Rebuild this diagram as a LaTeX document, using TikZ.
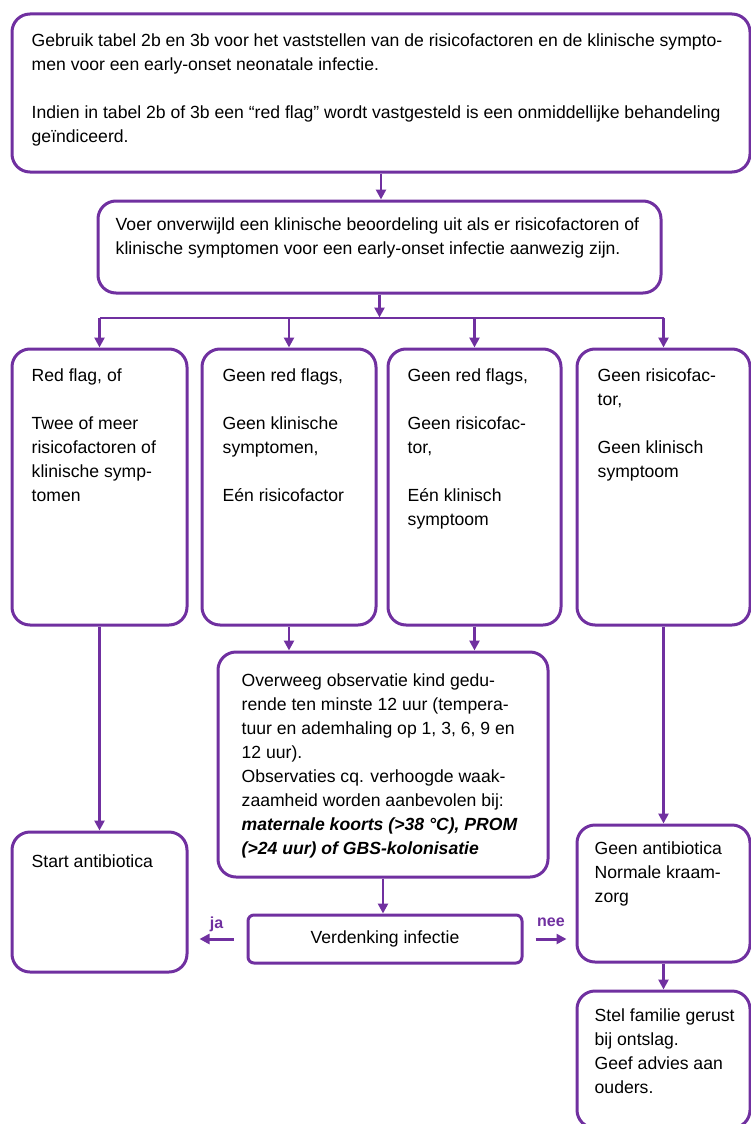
\documentclass[tikz,border=0pt]{standalone}
\usepackage{fontspec}
\setmainfont{Liberation Sans}
\usetikzlibrary{arrows.meta}
\definecolor{paars}{RGB}{112,48,160}

\tikzset{
  vak/.style={draw=paars, line width=3pt, rounded corners=18pt, inner sep=0pt},
  tekst/.style={anchor=north west, align=left, inner sep=0pt, font=\fontsize{17.6}{24}\selectfont,
    execute at begin node=\strut},
  pijl/.style={draw=paars, line width=2.5pt, -{Triangle[length=10pt,width=10pt]}},
  janee/.style={text=paars, font=\fontsize{16}{18}\selectfont\bfseries, inner sep=1pt},
}

\begin{document}
\begin{tikzpicture}[x=1pt, y=-1pt]

\useasboundingbox (0,0) rectangle (751,1124);

% boxes
\node[vak, minimum width=738, minimum height=158] (top) at (381,93) {};
\node[vak, minimum width=563, minimum height=92] (mid) at (379.5,247) {};
\node[vak, minimum width=175, minimum height=276] (b1) at (99.5,487) {};
\node[vak, minimum width=174, minimum height=276] (b2) at (289,487) {};
\node[vak, minimum width=173, minimum height=276] (b3) at (474.5,487) {};
\node[vak, minimum width=173, minimum height=276] (b4) at (663.5,487) {};
\node[vak, minimum width=330, minimum height=225] (ow) at (383,764.5) {};
\node[vak, minimum width=175, minimum height=140] (start) at (99.5,902) {};
\node[vak, rounded corners=6pt, minimum width=274, minimum height=48,
      font=\fontsize{17.6}{24}\selectfont] (verd) at (385,939) {Verdenking infectie};
\node[vak, minimum width=173, minimum height=137] (geen) at (663.5,893.5) {};
\node[vak, minimum width=173, minimum height=137] (stel) at (663.5,1059.5) {};

% texts
\node[tekst] (top-t) at ([shift={(21,21)}]top.north west)
  {Gebruik tabel 2b en 3b voor het vaststellen van de risicofactoren en de klinische sympto-\\
   men voor een early-onset neonatale infectie.\\[24pt]
   Indien in tabel 2b of 3b een ``red flag'' wordt vastgesteld is een onmiddellijke behandeling\\
   geïndiceerd.};
\node[tekst] (mid-t) at ([shift={(19,18)}]mid.north west)
  {Voer onverwijld een klinische beoordeling uit als er risicofactoren of\\
   klinische symptomen voor een early-onset infectie aanwezig zijn.};
\node[tekst] (b1-t) at ([shift={(21,21)}]b1.north west)
  {Red flag, of\\[24pt] Twee of meer\\ risicofactoren of\\ klinische symp-\\ tomen};
\node[tekst] (b2-t) at ([shift={(22,21)}]b2.north west)
  {Geen red flags,\\[24pt] Geen klinische\\ symptomen,\\[24pt] Eén risicofactor};
\node[tekst] (b3-t) at ([shift={(21,21)}]b3.north west)
  {Geen red flags,\\[24pt] Geen risicofac-\\ tor,\\[24pt] Eén klinisch\\ symptoom};
\node[tekst] (b4-t) at ([shift={(22,21)}]b4.north west)
  {Geen risicofac-\\ tor,\\[24pt] Geen klinisch\\ symptoom};
\node[tekst] (ow-t) at ([shift={(25,23)}]ow.north west)
  {Overweeg observatie kind gedu-\\
   rende ten minste 12 uur (tempera-\\
   tuur en ademhaling op 1, 3, 6, 9 en\\
   12 uur).\\
   Observaties cq. verhoogde waak-\\
   zaamheid worden aanbevolen bij:\\
   {\bfseries\itshape maternale koorts (>38 °C), PROM}\\
   {\bfseries\itshape (>24 uur) of GBS-kolonisatie}};
\node[tekst] (start-t) at ([shift={(21,20)}]start.north west) {Start antibiotica};
\node[tekst] (geen-t) at ([shift={(19,18)}]geen.north west)
  {Geen antibiotica\\ Normale kraam-\\ zorg};
\node[tekst] (stel-t) at ([shift={(19,19)}]stel.north west)
  {Stel familie gerust\\ bij ontslag.\\ Geef advies aan\\ ouders.};

% connectors
\coordinate (splits) at ([yshift=-23pt]mid.south);
\draw[paars, line width=2pt] (splits -| b1.north) -- (splits -| b4.north);

\begin{scope}[pijl]
\draw (top.south) -- (top.south |- mid.north); %top-mid
\draw (mid.south) -- (splits); %mid-splits
\draw (splits -| b1.north) -- (b1.north); %splits-b1
\draw (splits -| b2.north) -- (b2.north); %splits-b2
\draw (splits -| b3.north) -- (b3.north); %splits-b3
\draw (splits -| b4.north) -- (b4.north); %splits-b4
\draw (b1.south) -- (start.north); %b1-start
\draw (b2.south) -- (b2.south |- ow.north); %b2-ow
\draw (b3.south) -- (b3.south |- ow.north); %b3-ow
\draw (b4.south) -- (geen.north); %b4-geen
\draw (ow.south) -- (ow.south |- verd.north); %ow-verd
\draw (geen.south) -- (stel.north); %geen-stel
\end{scope}

\coordinate (ja-a) at ([xshift=-13pt]verd.west);
\coordinate (ja-b) at ([xshift=-47pt]verd.west);
\coordinate (nee-a) at ([xshift=12pt]verd.east);
\coordinate (nee-b) at ([xshift=43pt]verd.east);
\draw[pijl, line width=3pt] (ja-a) -- (ja-b) node[midway, above=5pt, janee] {ja};
\draw[pijl, line width=3pt] (nee-a) -- (nee-b) node[midway, above=10pt, janee] {nee};

\end{tikzpicture}
\end{document}
